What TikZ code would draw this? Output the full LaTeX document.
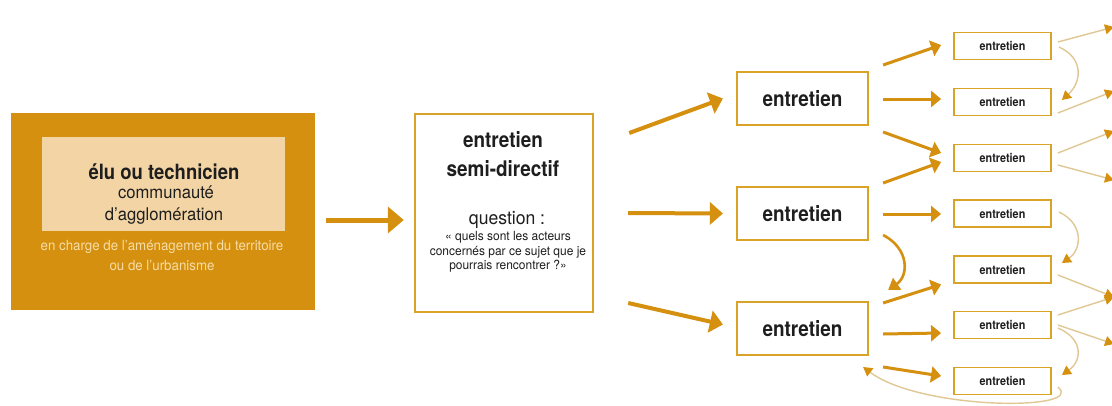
\documentclass[tikz,border=0pt]{standalone}
\usepackage{fontspec}
\setmainfont{TeX Gyre Heros}
\newfontfamily\cond[FakeStretch=0.88]{TeX Gyre Heros}
\newfontfamily\condr[FakeStretch=0.95]{TeX Gyre Heros}
\usetikzlibrary{arrows.meta,calc}
\definecolor{gold}{HTML}{D4900E}
\definecolor{wheatbox}{HTML}{F3D5A5}
\definecolor{palet}{HTML}{F8DCA6}
\definecolor{bord}{HTML}{D9A328}
\definecolor{thinc}{HTML}{E0C894}
\definecolor{ink}{HTML}{1E1E1E}
\tikzset{
  txt/.style={inner sep=0pt, anchor=base, text=ink},
  bigbox/.style={fill=gold, minimum width=304pt, minimum height=197pt, inner sep=0pt},
  innerbox/.style={fill=wheatbox, minimum width=243pt, minimum height=94pt, inner sep=0pt},
  semibox/.style={draw=bord, line width=2.4pt, fill=white, minimum width=178pt, minimum height=198pt, inner sep=0pt},
  mbox/.style={draw=bord, line width=2.2pt, fill=white, minimum width=131pt, minimum height=53pt, inner sep=0pt, text=ink, font=\cond\bfseries\fontsize{21.5}{24}\selectfont},
  sbox/.style={draw=bord, line width=1.8pt, fill=white, minimum width=97pt, minimum height=27pt, inner sep=0pt, text=ink, font=\cond\bfseries\fontsize{12.3}{14}\selectfont},
  bigarr/.style={draw=gold, line width=5pt, -{Triangle[length=16pt,width=26pt]}},
  garr/.style={draw=gold, line width=4pt, -{Triangle[length=13pt,width=22pt]}},
  sarr/.style={draw=gold, line width=3pt, -{Triangle[length=10pt,width=16pt]}},
  carr/.style={draw=gold, line width=2.6pt, -{Triangle[length=11pt,width=14pt]}},
  tarr/.style={draw=thinc, line width=1.4pt, -{Triangle[length=9pt,width=10pt,color=gold]}},
}
\begin{document}
\begin{tikzpicture}[x=1pt,y=-1pt,font=\cond]
\useasboundingbox (0,0) rectangle (1112,405);
\fill[white] (0,0) rectangle (1112,405);

% left block
\node[bigbox] (left) at (163,211.5) {};
\node[innerbox] (inner) at (163.5,184) {};
\node[txt, font=\cond\bfseries\fontsize{21}{24}\selectfont] (t1) at (164,179) {élu ou technicien};
\node[txt, font=\condr\fontsize{17.5}{20}\selectfont] (t2) at (166,198.5) {communauté};
\node[txt, font=\condr\fontsize{17.5}{20}\selectfont] (t3) at (164,220) {d’agglomération};
\node[txt, text=palet, font=\condr\fontsize{14}{16}\selectfont] (t4) at (162,250) {en charge de l’aménagement du territoire};
\node[txt, text=palet, font=\condr\fontsize{14}{16}\selectfont] (t5) at (162,270) {ou de l’urbanisme};

% semi-directive box
\node[semibox] (semi) at (504,213) {};
\node[txt, font=\cond\bfseries\fontsize{21.5}{24}\selectfont] (s1t) at (503,147) {entretien};
\node[txt, font=\cond\bfseries\fontsize{21.5}{24}\selectfont] (s2t) at (503,176) {semi-directif};
\node[txt, font=\condr\fontsize{18.5}{20}\selectfont] (s3t) at (507,224) {question :};
\node[txt, font=\condr\fontsize{12.6}{14}\selectfont] (s4t) at (508,240.5) {« quels sont les acteurs};
\node[txt, font=\condr\fontsize{12.6}{14}\selectfont] (s5t) at (508,255) {concernés par ce sujet que je};
\node[txt, font=\condr\fontsize{12.6}{14}\selectfont] (s6t) at (508,269) {pourrais rencontrer ?»};

\draw[bigarr] ($(left.east)+(11,8.5)$) -- ($(semi.west)+(-10,7)$);

% middle boxes
\node[mbox] (m1) at (802.5,98.5) {entretien};
\node[mbox] (m2) at (802.5,213.5) {entretien};
\node[mbox] (m3) at (802.5,328.5) {entretien};

\draw[garr] ($(semi.east)+(35,-80)$) -- ($(m1.west)+(-13,0)$);
\draw[garr] ($(semi.east)+(34,0)$) -- ($(m2.west)+(-13,0)$);
\draw[garr] ($(semi.east)+(34,90)$) -- ($(m3.west)+(-13,-4)$);

% small boxes
\node[sbox] (a1) at (1002.5,46) {entretien};
\node[sbox] (a2) at (1002.5,102) {entretien};
\node[sbox] (a3) at (1002.5,158) {entretien};
\node[sbox] (a4) at (1002.5,213.5) {entretien};
\node[sbox] (a5) at (1002.5,269.5) {entretien};
\node[sbox] (a6) at (1002.5,325) {entretien};
\node[sbox] (a7) at (1002.5,381) {entretien};

\draw[sarr] ($(m1.east)+(14,-33.5)$) -- ($(a1.west)+(-12,-1)$);
\draw[sarr] ($(m1.east)+(14,0.5)$) -- ($(a2.west)+(-12,-3)$);
\draw[sarr] ($(m1.east)+(14,33.5)$) -- ($(a3.west)+(-12,-5)$);
\draw[sarr] ($(m2.east)+(14,-30.5)$) -- ($(a3.west)+(-12,4)$);
\draw[sarr] ($(m2.east)+(14,0.5)$) -- ($(a4.west)+(-12,0.5)$);
\draw[carr] ($(m2.east)+(14,21.5)$) .. controls ($(m2.east)+(40,35)$) and ($(m2.east)+(40,62)$) .. ($(m3.east)+(19,-38.5)$);
\draw[sarr] ($(m3.east)+(14,-25.5)$) -- ($(a5.west)+(-12,15)$);
\draw[sarr] ($(m3.east)+(14,5.5)$) -- ($(a6.west)+(-12,8)$);
\draw[sarr] ($(m3.east)+(14,38.5)$) -- ($(a7.west)+(-12,-5)$);
\draw[tarr] ($(a7.east)+(6,6)$) .. controls ($(a7.east)+(36,30)$) and ($(m3.east)+(52,82)$) .. ($(m3.east)+(-6,38.5)$);

% right-edge ends
\coordinate (e1) at (1114,27);
\coordinate (e2) at (1114,91);
\coordinate (e3) at (1114,131);
\coordinate (e4) at (1114,180);
\coordinate (e5) at (1114,297);
\coordinate (e6) at (1114,344);

\draw[tarr] ($(a1.east)+(6,-4)$) -- (e1);
\draw[tarr] ($(a1.east)+(7,1)$) .. controls ($(a1.east)+(32,12)$) and ($(a2.east)+(30,-20)$) .. ($(a2.east)+(10,-2)$);
\draw[tarr] ($(a2.east)+(6,11)$) -- (e2);
\draw[tarr] ($(a3.east)+(6,-5)$) -- (e3);
\draw[tarr] ($(a3.east)+(6,7)$) -- (e4);
\draw[tarr] ($(a4.east)+(7,-1.5)$) .. controls ($(a4.east)+(32,10)$) and ($(a5.east)+(30,-20)$) .. ($(a5.east)+(10,-6.5)$);
\draw[tarr] ($(a5.east)+(6,5.5)$) -- (e5);
\draw[tarr] ($(a6.east)+(6,-10)$) -- (e5);
\draw[tarr] ($(a6.east)+(6,0)$) -- (e6);
\draw[tarr] ($(a6.east)+(6,3)$) .. controls ($(a6.east)+(32,14)$) and ($(a7.east)+(30,-20)$) .. ($(a7.east)+(10,-6)$);
\end{tikzpicture}
\end{document}
